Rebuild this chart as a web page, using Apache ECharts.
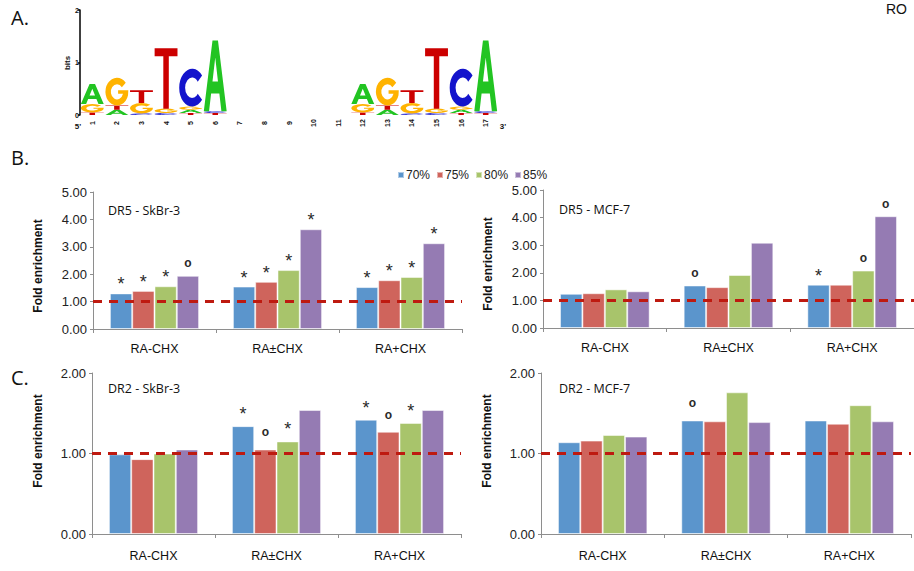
<!DOCTYPE html>
<html><head><meta charset="utf-8">
<script src="https://cdn.jsdelivr.net/npm/echarts@6/dist/echarts.min.js"></script>
<style>html,body{margin:0;padding:0;background:#fff}#c{width:914px;height:571px}</style>
</head><body><div id="c"></div>
<script>
// ---------- DATA ----------
const categories = ['RA-CHX', 'RA±CHX', 'RA+CHX'];
const seriesNames = ['70%', '75%', '80%', '85%'];

// DR5 - SkBr-3 (rows: 70%, 75%, 80%, 85%; cols: categories)
const dr5SkBr3 = [[1.30, 1.55, 1.53], [1.39, 1.72, 1.78], [1.56, 2.15, 1.90], [1.94, 3.64, 3.13]];
const dr5SkBr3Sig = [['*', '*', '*'], ['*', '*', '*'], ['*', '*', '*'], ['o', '*', '*']];
// DR5 - MCF-7
const dr5Mcf7 = [[1.24, 1.54, 1.57], [1.26, 1.48, 1.57], [1.40, 1.92, 2.08], [1.33, 3.09, 4.05]];
const dr5Mcf7Sig = [['', 'o', '*'], ['', '', ''], ['', '', 'o'], ['', '', 'o']];
// DR2 - SkBr-3
const dr2SkBr3 = [[0.99, 1.34, 1.42], [0.93, 1.05, 1.27], [1.00, 1.15, 1.38], [1.05, 1.54, 1.54]];
const dr2SkBr3Sig = [['', '*', '*'], ['', 'o', 'o'], ['', '*', '*'], ['', '', '']];
// DR2 - MCF-7
const dr2Mcf7 = [[1.14, 1.41, 1.41], [1.16, 1.40, 1.37], [1.23, 1.76, 1.60], [1.21, 1.39, 1.40]];
const dr2Mcf7Sig = [['', 'o', ''], ['', '', ''], ['', '', ''], ['', '', '']];

const referenceLevel = 1.0;
const dr5Ticks = [0, 5, 1];   // min, max, interval
const dr2Ticks = [0, 2, 1];

// Sequence logo (panel A)
const logoTickLabels = ['1','2','3','4','5','6','7','8','9','10','11','12','13','14','15','16','17'];
const logoPositions = [1, 2, 3, 4, 5, 6, 12, 13, 14, 15, 16, 17];
const logoLetters = [
  ['T', 'G', 'A'], ['A', 'T', 'G'], ['C', 'G', 'T'], ['C', 'G', 'T'], ['T', 'A', 'G', 'C'], ['T', 'C', 'A'],
  ['T', 'G', 'A'], ['A', 'T', 'G'], ['C', 'G', 'T'], ['C', 'G', 'T'], ['T', 'A', 'G', 'C'], ['T', 'C', 'A']
];
const logoBits = [
  [0.05, 0.16, 0.38], [0.10, 0.08, 0.53], [0.03, 0.20, 0.24], [0.04, 0.08, 1.15], [0.04, 0.06, 0.06, 0.72], [0.04, 0.03, 1.35],
  [0.05, 0.16, 0.38], [0.10, 0.08, 0.53], [0.03, 0.20, 0.24], [0.04, 0.08, 1.15], [0.04, 0.06, 0.06, 0.72], [0.04, 0.03, 1.35]
];

// ---------- STYLE ----------
const barColors = ['#5B95CC', '#CF645C', '#A8C46B', '#957BB3'];
const letterColor = { A: '#22C422', C: '#1414CC', G: '#FFB300', T: '#CC0000' };
const letterPath = {
  T: 'M0,0 H100 V13 H62 V100 H38 V13 H0 Z',
  A: 'M0,100 L38,0 H62 L100,100 H77 L68,75 H32 L23,100 Z M38,58 H62 L50,24 Z',
  C: 'M88.3,17.9 A50,50 0 1 0 88.3,82.1 L71.5,66 A27,27 0 1 1 71.5,34 Z',
  G: 'M88.3,17.9 A50,50 0 1 0 98.3,62.9 L99.5,45 L55,45 L55,58 L76.4,58 A27,27 0 1 1 71.5,34 Z'
};
const axisGray = '#8E8E8E';
const sans = "'Liberation Sans', Arial, sans-serif";
const humanist = "'Open Sans', 'Noto Sans', sans-serif";

// ---------- BUILD ----------
const logoData = [];
logoPositions.forEach((p, i) => {
  let y0 = 0;
  logoLetters[i].forEach((L, j) => {
    logoData.push([p - 1, ['A', 'C', 'G', 'T'].indexOf(L), y0, logoBits[i][j]]);
    y0 += logoBits[i][j];
  });
});

function sigLabel(s, off) {
  if (s === '*') return { show: true, position: 'top', formatter: '*', fontSize: 18, fontFamily: sans, color: '#2a2a2a', distance: Math.max(0, off - 13.5) };
  return { show: true, position: 'top', formatter: 'o', fontSize: 12, fontWeight: 'bold', fontFamily: sans, color: '#2a2a2a', distance: off - 5.5 };
}

function barSeries(values, sigs, gi, off) {
  return seriesNames.map((n, k) => ({
    type: 'bar', name: n, xAxisIndex: gi, yAxisIndex: gi,
    barGap: '0%', barCategoryGap: '27.5%',
    itemStyle: { color: barColors[k], borderColor: 'rgba(255,255,255,0.5)', borderWidth: 1 },
    data: values[k].map((v, j) => sigs[k][j] ? { value: v, label: sigLabel(sigs[k][j], off) } : v),
    markLine: k === 3 ? {
      silent: true, symbol: ['none', 'none'], label: { show: false },
      lineStyle: { color: '#BE1A10', width: 3, type: [9, 7] },
      data: [{ yAxis: referenceLevel }]
    } : undefined
  }));
}

function catAxis(gi, margin) {
  return {
    type: 'category', gridIndex: gi, data: categories,
    axisLine: { lineStyle: { color: axisGray, width: 1 } },
    axisTick: { show: true, length: 4, lineStyle: { color: axisGray } },
    axisLabel: { fontSize: 12.5, fontFamily: sans, color: '#111', margin: margin }
  };
}
function valAxis(gi, t) {
  return {
    type: 'value', gridIndex: gi, min: t[0], max: t[1], interval: t[2],
    axisLine: { show: true, lineStyle: { color: axisGray, width: 1 } },
    axisTick: { show: true, length: 3, lineStyle: { color: axisGray } },
    splitLine: { show: false },
    axisLabel: { fontSize: 13, fontFamily: sans, color: '#222', margin: 6, formatter: v => v.toFixed(2) }
  };
}

function txt(text, x, y, size, family) {
  return { type: 'text', x: x, y: y,
    style: { text: text, fontSize: size, fontFamily: family || sans, fill: '#111', align: 'left', verticalAlign: 'middle' } };
}
function vname(x, y) {
  return { type: 'text', x: x, y: y, rotation: Math.PI / 2,
    style: { text: 'Fold enrichment', fontSize: 12, fontWeight: 'bold', fontFamily: sans, fill: '#111', align: 'center', verticalAlign: 'middle' } };
}

const option = {
  animation: false,
  backgroundColor: '#fff',
  legend: {
    data: seriesNames, left: 392, top: 164, icon: 'rect', itemWidth: 6, itemHeight: 6, itemGap: 6,
    textStyle: { fontSize: 12, fontFamily: sans, color: '#222', padding: [0, 0, 0, -3] }
  },
  grid: [
    { left: 80, top: 10, width: 418, height: 105 },
    { left: 93, top: 192, width: 369, height: 137 },
    { left: 543, top: 190, width: 371, height: 138 },
    { left: 92, top: 373, width: 369, height: 161 },
    { left: 541, top: 373, width: 370, height: 161 }
  ],
  xAxis: [
    { type: 'category', gridIndex: 0, data: logoTickLabels, axisLine: { show: false }, axisTick: { show: false },
      axisLabel: { rotate: 90, interval: 0, fontSize: 7, fontWeight: 'bold', fontFamily: sans, color: '#111', margin: 8, align: 'center', verticalAlign: 'middle' } },
    catAxis(1, 13), catAxis(2, 13), catAxis(3, 15), catAxis(4, 15)
  ],
  yAxis: [
    { type: 'value', gridIndex: 0, min: 0, max: 2, interval: 1,
      axisLine: { show: true, lineStyle: { color: '#000', width: 1.5 } },
      axisTick: { show: true, length: 2, lineStyle: { color: '#000', width: 1.5 } },
      splitLine: { show: false },
      axisLabel: { fontSize: 7, fontWeight: 'bold', fontFamily: sans, color: '#111', margin: 1 } },
    valAxis(1, dr5Ticks), valAxis(2, dr5Ticks), valAxis(3, dr2Ticks), valAxis(4, dr2Ticks)
  ],
  series: [
    {
      type: 'custom', xAxisIndex: 0, yAxisIndex: 0, data: logoData, encode: { x: 0, y: 2 },
      renderItem: function (params, api) {
        const cat = api.value(0), li = api.value(1), y0 = api.value(2), h = api.value(3);
        const L = ['A', 'C', 'G', 'T'][li];
        const p0 = api.coord([cat, y0]);
        const p1 = api.coord([cat, y0 + h]);
        const bw = api.size([1, 0])[0] * 0.93;
        return {
          type: 'path',
          shape: { pathData: letterPath[L], x: p0[0] - bw / 2, y: p1[1], width: bw, height: Math.max(0.5, p0[1] - p1[1]), layout: 'cover' },
          style: { fill: letterColor[L] }
        };
      }
    }
  ].concat(
    barSeries(dr5SkBr3, dr5SkBr3Sig, 1, 12),
    barSeries(dr5Mcf7, dr5Mcf7Sig, 2, 12),
    barSeries(dr2SkBr3, dr2SkBr3Sig, 3, 16.5),
    barSeries(dr2Mcf7, dr2Mcf7Sig, 4, 16.5)
  ),
  graphic: [
    txt('A.', 11, 17, 20, humanist),
    txt('B.', 11, 157, 20, humanist),
    txt('C.', 11, 377, 20, humanist),
    txt('RO', 886, 9, 14),
    txt('DR5 - SkBr-3', 108, 210, 12.5, humanist),
    txt('DR5 - MCF-7', 559, 209, 12.5, humanist),
    txt('DR2 - SkBr-3', 108, 388, 12.5, humanist),
    txt('DR2 - MCF-7', 559, 388, 12.5, humanist),
    vname(38, 266), vname(488, 264), vname(38, 441), vname(487, 441),
    { type: 'text', x: 67, y: 63, rotation: Math.PI / 2, style: { text: 'bits', fontSize: 8, fontWeight: 'bold', fontFamily: sans, fill: '#111', align: 'center', verticalAlign: 'middle' } },
    { type: 'text', x: 78, y: 126, style: { text: "5'", fontSize: 8, fontWeight: 'bold', fontFamily: sans, fill: '#111', align: 'center', verticalAlign: 'middle' } },
    { type: 'text', x: 503, y: 126, style: { text: "3'", fontSize: 8, fontWeight: 'bold', fontFamily: sans, fill: '#111', align: 'center', verticalAlign: 'middle' } }
  ]
};

const chart = echarts.init(document.getElementById('c'), null, { renderer: 'svg' });
chart.setOption(option);
</script>
</body></html>
